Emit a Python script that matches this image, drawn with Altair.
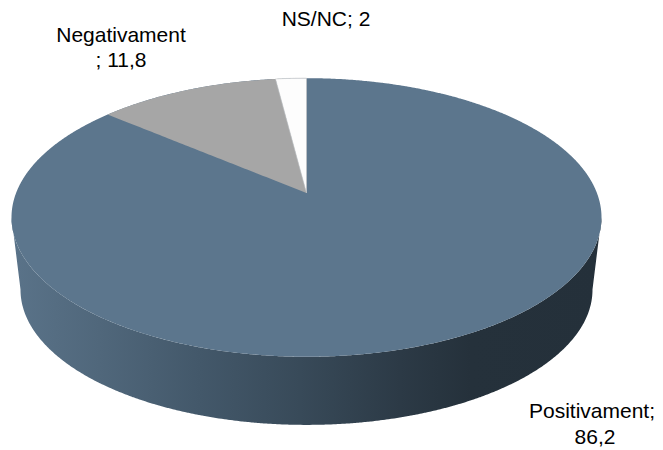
import numpy as np
import pandas as pd
import altair as alt

labels = ["Positivament", "Negativament", "NS/NC"]
values = [86.2, 11.8, 2.0]
slice_colors = ["#5C768D", "#A6A6A6", "#FDFDFD"]
label_lines = ["NS/NC; 2", "Negativament", "; 11,8", "Positivament;", "86,2"]
label_x = [326, 121, 121, 592, 595]
label_y = [26, 42, 67, 418, 444]

K = 0.1756


def project(t_deg, cx, cy, a, h):
    t = np.radians(t_deg)
    d = 1 + K * np.cos(t)
    return cx + a * np.sqrt(1 - K**2) * np.sin(t) / d, cy - h * np.cos(t) / d


def chains(cx, cy, a, h):
    t = np.arange(0, 360, 0.5)
    x, y = project(t, cx, cy, a, h)
    i0, i1 = int(np.argmin(x)), int(np.argmax(x))
    idx_upper = np.r_[i0:len(t), 0:i1 + 1]
    idx_lower = np.arange(i0, i1 - 1, -1)
    return (x[idx_upper], y[idx_upper]), (x[idx_lower], y[idx_lower])


def band(up, lo):
    xs = np.unique(np.r_[up[0], lo[0]])
    return pd.DataFrame({"x": xs, "y": np.interp(xs, up[0], up[1]), "y2": np.interp(xs, lo[0], lo[1])})


CX, CY, A, H = 306.5, 193, 295, 135
top_up, top_lo = chains(CX, CY, A, H)
_, base_lo = chains(CX, 266, 286, 131)

wall_lo = (np.r_[top_lo[0][0], base_lo[0], top_lo[0][-1]], np.r_[top_lo[1][0], base_lo[1], top_lo[1][-1]])
wall = band(top_lo, wall_lo)
disc = band(top_up, top_lo)

shares = np.cumsum(values) / np.sum(values) * 360


def wedge(t0, t1):
    t = np.linspace(t0, t1, 60)
    x, y = project(t, CX, CY, A, H)
    if x[-1] < CX - 0.01:
        x, y = np.r_[x, CX], np.r_[y, CY]
    return band((x, y), (np.array([x[0], CX]), np.array([y[0], CY])))


grey = wedge(shares[0], shares[1])
white = wedge(shares[1], shares[2])

xs = alt.Scale(domain=[8, 655], range=[0, 647])
ys = alt.Scale(domain=[450, 8])


def area(df, **kw):
    return alt.Chart(df).mark_area(clip=False, **kw).encode(
        x=alt.X("x:Q", scale=xs, axis=None),
        y=alt.Y("y:Q", scale=ys, axis=None),
        y2="y2:Q",
    )


def stop(px, color):
    return alt.GradientStop(offset=(px - 12) / 589, color=color)


shade = alt.Gradient(
    gradient="linear", x1=0, x2=1, y1=0, y2=0,
    stops=[
        stop(12, "#5A7389"), stop(100, "#50677B"), stop(200, "#43586A"),
        stop(300, "#384A59"), stop(400, "#2C3A46"), stop(470, "#25313B"),
        stop(601, "#24303A"),
    ],
)

text_df = pd.DataFrame({"t": label_lines, "x": label_x, "y": label_y})
text = alt.Chart(text_df).mark_text(
    font="Liberation Sans", fontSize=21, color="#000000", align="center", baseline="alphabetic"
).encode(
    x=alt.X("x:Q", scale=xs, axis=None),
    y=alt.Y("y:Q", scale=ys, axis=None),
    text="t:N",
)

chart = alt.layer(
    area(wall, color=shade),
    area(disc, color=slice_colors[0]),
    area(grey, color=slice_colors[1]),
    area(white, color=slice_colors[2], stroke="#C4C4C4", strokeWidth=0.6),
    text,
).properties(
    width=647, height=442, padding=0, autosize=alt.AutoSizeParams(type="none"), background="#FFFFFF"
).configure_view(stroke=None)

chart.save("out.html", embed_options={"renderer": "svg", "actions": False})
